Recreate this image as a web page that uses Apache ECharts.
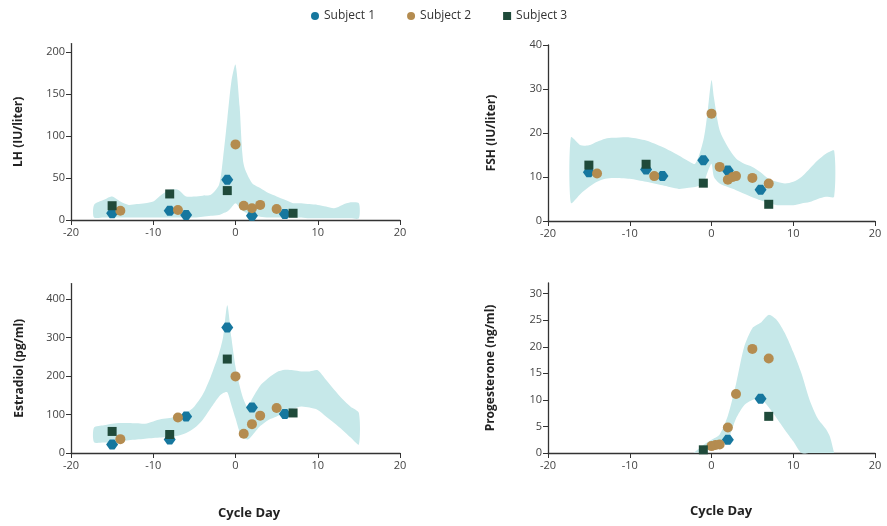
<!DOCTYPE html>
<html>
<head>
<meta charset="utf-8">
<script src="https://cdn.jsdelivr.net/npm/echarts@6/dist/echarts.min.js"></script>
<style>
  html, body { margin: 0; padding: 0; background: #fff; }
  #chart { width: 887px; height: 526px; }
</style>
</head>
<body>
<div id="chart"></div>
<script>
// Hormone levels across the menstrual cycle for three subjects,
// plotted over the normal reference range (shaded band).

const subjectNames = ['Subject 1', 'Subject 2', 'Subject 3'];
const xTicks = [-20, -10, 0, 10, 20];

// ---- LH (IU/liter) ----
const lhS1 = [[-15, 8], [-8, 11], [-6, 6], [-1, 48], [2, 5], [6, 7]];
const lhS2 = [[-14, 11], [-7, 12], [0, 90], [1, 17], [2, 14], [3, 18], [5, 13]];
const lhS3 = [[-15, 17], [-8, 31], [-1, 35], [7, 8]];
const lhBandDays  = [-17.2, -16, -15, -14, -13, -12, -11, -10, -9, -8, -7, -6, -5, -4, -3, -2, -1.5, -1, -0.5, 0, 0.5, 1, 2, 3, 4, 5, 6, 7, 8, 9, 10, 11, 12, 13, 14, 15];
const lhBandUpper = [18, 24, 28, 22, 18, 19, 20, 22, 30, 36, 36, 28, 28, 29, 30, 42, 75, 120, 165, 185, 135, 66, 44, 38, 32, 28, 24, 20, 20, 19, 18, 16, 14, 18, 21, 20];
const lhBandLower = [3, 3, 3, 3, 3, 3, 3, 3, 3, 3, 3, 3, 3, 4, 5, 6, 8, 10, 15, 20, 15, 10, 6, 4, 3, 3, 3, 3, 3, 2, 2, 2, 2, 2, 2, 2];
const lhTicks = [0, 50, 100, 150, 200];

// ---- FSH (IU/liter) ----
const fshS1 = [[-15, 11.1], [-8, 11.7], [-6, 10.2], [-1, 13.8], [2, 11.5], [6, 7.1]];
const fshS2 = [[-14, 10.8], [-7, 10.2], [0, 24.4], [1, 12.3], [2, 9.4], [2.6, 10], [3, 10.2], [5, 9.8], [7, 8.5]];
const fshS3 = [[-15, 12.7], [-8, 12.9], [-1, 8.6], [7, 3.8]];
const fshBandDays  = [-17.2, -16, -15, -14, -13, -12, -10, -8, -6, -4, -3, -2, -1, -0.5, 0, 0.3, 1, 2, 3, 4, 5, 6, 7, 8, 9, 10, 11, 12, 13, 14, 15];
const fshBandUpper = [19, 17.2, 17.2, 18, 18.7, 18.9, 19, 18.3, 16.8, 14.9, 13.8, 13, 18.3, 24.4, 32, 28, 20.6, 16.8, 14.2, 13, 12.3, 11.1, 9.6, 8.9, 8.5, 8.9, 10, 11.9, 13.8, 15.3, 16];
const fshBandLower = [4.1, 6.2, 7.7, 8.9, 9.6, 9.8, 9.6, 8.9, 8.1, 7.3, 7.5, 7.7, 8.5, 11, 13, 10, 8.5, 7.7, 7, 6.2, 5.4, 4.7, 4.1, 3.6, 3.6, 3.6, 4, 4.3, 5, 5.5, 5.5];
const fshTicks = [0, 10, 20, 30, 40];

// ---- Estradiol (pg/ml) ----
const e2S1 = [[-15, 22], [-8, 35], [-6, 95], [-1, 326], [2, 118], [6, 101]];
const e2S2 = [[-14, 36], [-7, 92], [0, 199], [1, 50], [2, 75], [3, 97], [5, 117]];
const e2S3 = [[-15, 56], [-8, 48], [-1, 244], [7, 104]];
const e2BandDays  = [-17.2, -16, -15, -14, -13, -12, -11, -10, -9, -8, -7, -6, -5, -4, -3, -2, -1.5, -1, -0.5, 0, 0.5, 1, 1.5, 2, 3, 4, 5, 6, 7, 8, 9, 10, 11, 12, 13, 14, 15];
const e2BandUpper = [66, 72, 76, 78, 78, 77, 76, 82, 88, 91, 95, 104, 121, 151, 199, 259, 302, 384, 300, 224, 175, 138, 118, 140, 175, 195, 210, 216, 215, 212, 212, 215, 190, 164, 140, 120, 104];
const e2BandLower = [28, 27, 26, 30, 33, 35, 37, 39, 40, 42, 45, 52, 65, 86, 117, 147, 156, 158, 125, 90, 55, 38, 35, 45, 70, 86, 95, 105, 115, 121, 118, 112, 95, 78, 60, 40, 22];
const e2Ticks = [0, 100, 200, 300, 400];

// ---- Progesterone (ng/ml) ----
const p4S1 = [[2, 2.5], [6, 10.2]];
const p4S2 = [[0, 1.3], [0.5, 1.5], [1, 1.6], [2, 4.8], [3, 11.1], [5, 19.6], [7, 17.8]];
const p4S3 = [[-1, 0.6], [7, 6.9]];
const p4BandDays  = [-2.2, -1, 0, 1, 2, 3, 4, 5, 6, 7, 8, 9, 10, 11, 12, 13, 14, 14.5, 15];
const p4BandUpper = [0, 1.5, 2.5, 3.5, 7, 13, 20, 23.5, 24.5, 26, 25, 22.5, 19, 15, 10, 6.5, 4.5, 3, 0];
const p4BandLower = [0, 0.3, 0.8, 1.2, 2.5, 6.5, 9, 10, 10.2, 8.6, 6.5, 4.3, 2.2, 0, 0, 0, 0, 0, 0];
const p4Ticks = [0, 5, 10, 15, 20, 25, 30];

const COLORS = ['#16779e', '#b48c50', '#1f4a3a'];
const BAND = '#c6e8e9';
const FONT = 'Open Sans';
const SYMBOLS = ['path://M0,5 L3,0 L7,0 L10,5 L7,10 L3,10 Z', 'circle', 'rect'];
const SIZES = [[12, 10], 10, 9];

const panels = [
  { name: 'LH (IU/liter)', yMax: 210, ticks: lhTicks, gap: 46,
    grid: { left: 71, top: 43.6, width: 329, height: 176.4 },
    band: [lhBandDays, lhBandUpper, lhBandLower], subjects: [lhS1, lhS2, lhS3] },
  { name: 'FSH (IU/liter)', yMax: 40, ticks: fshTicks, gap: 50,
    grid: { left: 548, top: 45, width: 327, height: 176 },
    band: [fshBandDays, fshBandUpper, fshBandLower], subjects: [fshS1, fshS2, fshS3] },
  { name: 'Estradiol (pg/ml)', yMax: 440, ticks: e2Ticks, gap: 45,
    grid: { left: 71, top: 283.6, width: 329, height: 169.4 },
    band: [e2BandDays, e2BandUpper, e2BandLower], subjects: [e2S1, e2S2, e2S3] },
  { name: 'Progesterone (ng/ml)', yMax: 32, ticks: p4Ticks, gap: 51,
    grid: { left: 548, top: 283, width: 327, height: 170 },
    band: [p4BandDays, p4BandUpper, p4BandLower], subjects: [p4S1, p4S2, p4S3] }
];

const axisLine = { lineStyle: { color: '#333', width: 1.3 } };
const grids = [], xAxes = [], yAxes = [], series = [];

panels.forEach((p, i) => {
  grids.push(p.grid);
  xAxes.push({
    type: 'value', gridIndex: i, min: -20, max: 20, interval: 10,
    axisLine: Object.assign({ onZero: false }, axisLine),
    axisTick: { show: true, length: 5, lineStyle: { color: '#333' }, customValues: xTicks },
    axisLabel: { color: '#444', fontFamily: FONT, fontSize: 11, margin: 7, customValues: xTicks },
    splitLine: { show: false }
  });
  yAxes.push({
    type: 'value', gridIndex: i, min: 0, max: p.yMax,
    name: p.name, nameLocation: 'middle', nameRotate: 90, nameGap: p.gap,
    nameTextStyle: { fontFamily: FONT, fontWeight: 'bold', fontSize: 12, color: '#222' },
    axisLine: Object.assign({ onZero: false }, axisLine),
    axisTick: { show: true, length: 5, lineStyle: { color: '#333' }, customValues: p.ticks },
    axisLabel: { color: '#444', fontFamily: FONT, fontSize: 11, margin: 6, customValues: p.ticks },
    splitLine: { show: false }
  });

  // reference range band drawn as a polygon through the axis scales
  const [bDays, bUp, bLow] = p.band;
  series.push({
    type: 'custom', xAxisIndex: i, yAxisIndex: i, silent: true, z: 1,
    data: [[0, 0]],
    renderItem: (params, api) => {
      const pts = [];
      bDays.forEach((d, k) => pts.push(api.coord([d, bUp[k]])));
      for (let k = bDays.length - 1; k >= 0; k--) pts.push(api.coord([bDays[k], bLow[k]]));
      return { type: 'polygon', shape: { points: pts, smooth: 0.25 }, style: { fill: BAND } };
    }
  });

  p.subjects.forEach((pts, s) => {
    series.push({
      type: 'scatter', name: subjectNames[s], xAxisIndex: i, yAxisIndex: i, z: 3,
      symbol: SYMBOLS[s], symbolSize: SIZES[s],
      itemStyle: { color: COLORS[s], opacity: 1 },
      data: pts
    });
  });
});

const chart = echarts.init(document.getElementById('chart'), null, { renderer: 'canvas' });
chart.setOption({
  animation: false,
  color: COLORS,
  legend: {
    left: 306, top: 5, itemWidth: 8, itemHeight: 8, itemGap: 32,
    textStyle: { fontFamily: FONT, fontSize: 12, color: '#333' },
    data: [
      { name: 'Subject 1', icon: 'circle' },
      { name: 'Subject 2', icon: 'circle' },
      { name: 'Subject 3', icon: 'rect' }
    ]
  },
  grid: grids,
  xAxis: xAxes,
  yAxis: yAxes,
  series: series,
  graphic: [
    { type: 'text', left: 218, top: 507, style: { text: 'Cycle Day', font: 'bold 13px "Open Sans"', fill: '#222' } },
    { type: 'text', left: 690, top: 505, style: { text: 'Cycle Day', font: 'bold 13px "Open Sans"', fill: '#222' } }
  ]
});
</script>
</body>
</html>
